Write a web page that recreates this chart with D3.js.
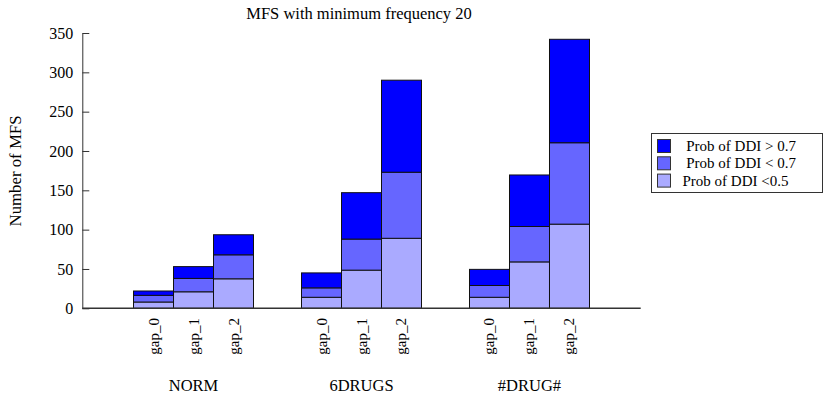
<!DOCTYPE html>
<html><head><meta charset="utf-8">
<script src="https://cdn.jsdelivr.net/npm/d3@7"></script>
<style>
html,body{margin:0;padding:0;background:#fff;}
svg{display:block;}
text{font-family:"Liberation Serif","DejaVu Serif",serif;fill:#000;}
</style></head><body>
<svg id="chart" width="823" height="394"></svg>
<script>
const groups = ["NORM", "6DRUGS", "#DRUG#"];
const gaps = ["gap_0", "gap_1", "gap_2"];
// order within each group: gap_0, gap_1, gap_2
const lowVals  = [8, 21, 37.5, 14, 48.5, 89, 14, 59, 107];     // Prob of DDI <0.5
const midVals  = [8.5, 17, 30.5, 12, 39.5, 84, 15, 45, 103.5]; // Prob of DDI < 0.7
const highVals = [5.5, 15, 25.5, 19, 59, 117, 20.5, 65.5, 131.5]; // Prob of DDI > 0.7
const seriesNames = [" Prob of DDI > 0.7", " Prob of DDI < 0.7", "Prob of DDI <0.5"];
const seriesColors = ["#0000ff", "#6666ff", "#aaaaff"];
const yTicks = [0, 50, 100, 150, 200, 250, 300, 350];
const title = "MFS with minimum frequency 20";
const yTitle = "Number of MFS";

const svg = d3.select("#chart");
const x0 = 82.3, x1 = 640.7, yBase = 308.3, yTop = 33;

const y = d3.scaleLinear().domain([0, 350]).range([yBase, yTop]);
const gx = d3.scaleBand().domain(groups).range([x0, x1]).paddingInner(48/168).paddingOuter(0.3048);
const bx = d3.scaleBand().domain(gaps).range([0, gx.bandwidth()]).padding(0);

const rows = [];
groups.forEach((g, gi) => gaps.forEach((p, pi) => {
  const i = gi * 3 + pi;
  rows.push({group: g, gap: p, low: lowVals[i], mid: midVals[i], high: highVals[i]});
}));
const stack = d3.stack().keys(["low", "mid", "high"])(rows);
const keyColor = {low: seriesColors[2], mid: seriesColors[1], high: seriesColors[0]};

// bars
const gBars = svg.append("g");
stack.forEach(layer => {
  gBars.append("g").selectAll("rect").data(layer).join("rect")
    .attr("x", d => gx(d.data.group) + bx(d.data.gap))
    .attr("width", bx.bandwidth())
    .attr("y", d => y(d[1]))
    .attr("height", d => y(d[0]) - y(d[1]))
    .attr("fill", keyColor[layer.key])
    .attr("stroke", "#111")
    .attr("stroke-width", 1);
});

// y axis
const yAxis = d3.axisLeft(y).tickValues(yTicks).tickSizeInner(-7).tickSizeOuter(0).tickPadding(9);
const ya = svg.append("g").attr("transform", `translate(${x0},0)`).call(yAxis);
ya.select(".domain").attr("stroke", "#333");
ya.selectAll(".tick line").attr("stroke", "#333");
ya.selectAll(".tick text").style("font-family", '"Liberation Serif",serif').style("font-size", "16px").attr("fill", "#000");

// baseline
svg.append("line").attr("x1", x0).attr("x2", x1).attr("y1", yBase).attr("y2", yBase)
  .attr("stroke", "#333").attr("stroke-width", 1.5);

// gap labels
rows.forEach(r => {
  const cx = gx(r.group) + bx(r.gap) + bx.bandwidth() / 2;
  svg.append("text").attr("transform", `translate(${cx + 5},318) rotate(-90)`)
    .attr("text-anchor", "end").style("font-size", "15px").text(r.gap);
});
// group labels
groups.forEach(g => {
  svg.append("text").attr("x", gx(g) + gx.bandwidth() / 2).attr("y", 391)
    .attr("text-anchor", "middle").style("font-size", "16.5px").text(g);
});

// title
svg.append("text").attr("x", 359).attr("y", 19).attr("text-anchor", "middle")
  .style("font-size", "16.5px").text(title);
// y title
svg.append("text").attr("transform", "translate(21,171) rotate(-90)").attr("text-anchor", "middle")
  .style("font-size", "16.8px").text(yTitle);

// legend
const lg = svg.append("g").attr("transform", "translate(651.5,133.5)");
lg.append("rect").attr("width", 171).attr("height", 59).attr("fill", "#fff").attr("stroke", "#333");
seriesNames.forEach((n, i) => {
  lg.append("rect").attr("x", 6).attr("y", 6 + i * 17.3).attr("width", 13).attr("height", 13)
    .attr("fill", seriesColors[i]).attr("stroke", "#333");
  lg.append("text").attr("x", 31).attr("y", 17.5 + i * 17.3).style("white-space", "pre")
    .style("font-size", "15px").text(n);
});
</script>
</body></html>
